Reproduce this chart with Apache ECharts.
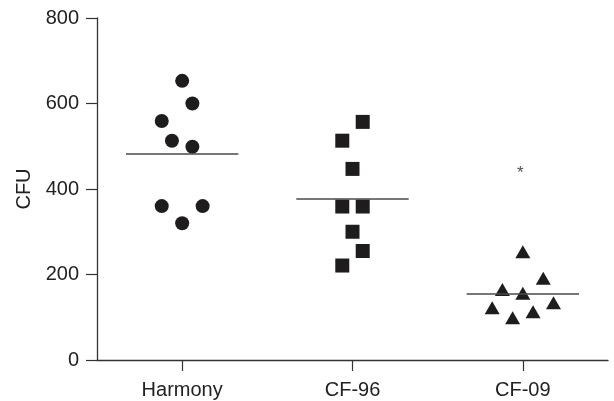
<!DOCTYPE html>
<html><head><meta charset="utf-8">
<script src="https://cdn.jsdelivr.net/npm/echarts@6/dist/echarts.min.js"></script>
<style>html,body{margin:0;padding:0;background:#fff}#c{width:614px;height:401px}</style>
</head><body><div id="c"></div>
<script>
const categories = ['Harmony', 'CF-96', 'CF-09'];
const harmonyValues = [653, 600, 559, 513, 499, 360, 360, 320];
const harmonyJitter = [0, 0.06, -0.12, -0.06, 0.06, -0.12, 0.12, 0];
const cf96Values = [557, 513, 447, 359, 359, 300, 255, 221];
const cf96Jitter = [0.06, -0.06, 0, -0.06, 0.06, 0, 0.06, -0.06];
const cf09Values = [253, 191, 165, 156, 122, 134, 113, 99];
const cf09Jitter = [0, 0.12, -0.12, 0, -0.18, 0.18, 0.06, -0.06];
const yTicks = [0, 200, 400, 600, 800];
const starCategory = 2.985;
const starValue = 437;

const groups = [
  { values: harmonyValues, jitter: harmonyJitter, symbol: 'circle', size: 14 },
  { values: cf96Values, jitter: cf96Jitter, symbol: 'rect', size: 14 },
  { values: cf09Values, jitter: cf09Jitter, symbol: 'triangle', size: [15, 13] }
];
const ink = '#1e1c1d';
const font = '"Liberation Sans", Arial, sans-serif';

const series = [];
groups.forEach((g, i) => {
  const c = i + 1;
  const mean = g.values.reduce((a, b) => a + b, 0) / g.values.length;
  series.push({
    type: 'scatter', xAxisIndex: 1, yAxisIndex: 0,
    symbol: g.symbol, symbolSize: g.size,
    itemStyle: { color: ink, opacity: 1 },
    data: g.values.map((v, k) => [c + g.jitter[k], v]),
    z: 3,
    markLine: {
      silent: true, symbol: 'none', animation: false,
      label: { show: false },
      lineStyle: { color: '#4a4a4a', width: 1.6, type: 'solid' },
      data: [[{ coord: [c - 0.33, mean] }, { coord: [c + 0.33, mean] }]]
    }
  });
});
series.push({
  type: 'scatter', xAxisIndex: 1, yAxisIndex: 0,
  symbolSize: 1, itemStyle: { color: 'rgba(0,0,0,0)' },
  label: { show: true, position: 'inside', formatter: '*', color: ink, fontSize: 17, fontFamily: font },
  data: [[starCategory, starValue]]
});

const chart = echarts.init(document.getElementById('c'), null, { renderer: 'canvas' });
chart.setOption({
  animation: false,
  backgroundColor: '#fff',
  grid: { left: 97, right: 6, top: 18, bottom: 41, containLabel: false },
  xAxis: [
    {
      type: 'category', data: categories, boundaryGap: true,
      axisLine: { lineStyle: { color: '#333', width: 1.3 } },
      axisTick: { show: true, alignWithLabel: true, length: 11, lineStyle: { color: '#333', width: 1.2 } },
      axisLabel: { color: '#222', fontSize: 20, fontFamily: font, margin: 20 },
      splitLine: { show: false }
    },
    { type: 'value', min: 0.5, max: 3.5, show: false }
  ],
  yAxis: {
    type: 'value', min: yTicks[0], max: yTicks[yTicks.length - 1], interval: yTicks[1] - yTicks[0],
    name: 'CFU', nameLocation: 'middle', nameGap: 62, nameRotate: 90,
    nameTextStyle: { color: '#222', fontSize: 20, fontFamily: font },
    axisLine: { show: true, lineStyle: { color: '#333', width: 1.3 } },
    axisTick: { show: true, length: 11, lineStyle: { color: '#333', width: 1.2 } },
    axisLabel: { color: '#222', fontSize: 20, fontFamily: font, margin: 18 },
    splitLine: { show: false }
  },
  series: series
});
</script>
</body></html>
